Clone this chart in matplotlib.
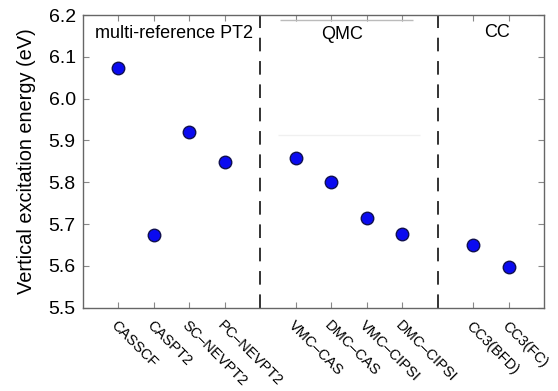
import numpy as np
import matplotlib
matplotlib.use('Agg')
import matplotlib.pyplot as plt

plt.rcParams['font.family'] = ['Liberation Sans', 'DejaVu Sans']

# methods and excitation energies (eV)
methods = ['CASSCF', 'CASPT2', 'SC\u2013NEVPT2', 'PC\u2013NEVPT2',
           'VMC\u2013CAS', 'DMC\u2013CAS', 'VMC\u2013CIPSI', 'DMC\u2013CIPSI',
           'CC3(BFD)', 'CC3(FC)']
positions = [1, 2, 3, 4, 6, 7, 8, 9, 11, 12]
energies = [6.074, 5.673, 5.921, 5.848, 5.857, 5.800, 5.715, 5.677, 5.650, 5.597]

groups = ['multi-reference PT2', 'QMC', 'CC']
dividers = [5, 10]

fig = plt.figure(figsize=(5.58, 3.91), dpi=100)
ax = fig.add_axes([0.148, 0.2133, 0.8275, 0.7483])

ax.plot(positions, energies, 'o', color='#0a0af0', markeredgecolor='#101050',
        markeredgewidth=1.0, markersize=9, zorder=3)

for d in dividers:
    ax.axvline(d, color='#333333', lw=1.4, ls=(0, (7, 5)), zorder=2)

# faint box edge left over in the QMC panel
ax.hlines(6.189, 5.55, 9.3, color='#bbbbbb', lw=1.0)
ax.hlines(5.912, 5.5, 9.5, color='#f0f0f0', lw=1.0)

ax.text(0.35, 6.155, groups[0], fontsize=13, ha='left', va='center')
ax.text(7.3, 6.153, groups[1], fontsize=13, ha='center', va='center')
ax.text(11.66, 6.158, groups[2], fontsize=13, ha='center', va='center')

ax.set_xlim(0, 13)
ax.set_ylim(5.5, 6.2)
ax.set_yticks(np.arange(5.5, 6.21, 0.1))
ax.set_yticklabels(['%.1f' % v for v in np.arange(5.5, 6.21, 0.1)], fontsize=14)
ax.set_xticks(positions)
ax.set_xticklabels(methods, rotation=-45, ha='left', va='top',
                   rotation_mode='anchor', fontsize=10.5)
ax.set_ylabel('Vertical excitation energy (eV)', fontsize=14.4, labelpad=9)

ax.tick_params(direction='in', top=True, right=True, length=4,
               color='#888888', width=0.8, pad=5)
ax.tick_params(axis='x', pad=8)
for s in ax.spines.values():
    s.set_color('#666666')
    s.set_linewidth(1.0)

plt.savefig('out.png', dpi=100)
